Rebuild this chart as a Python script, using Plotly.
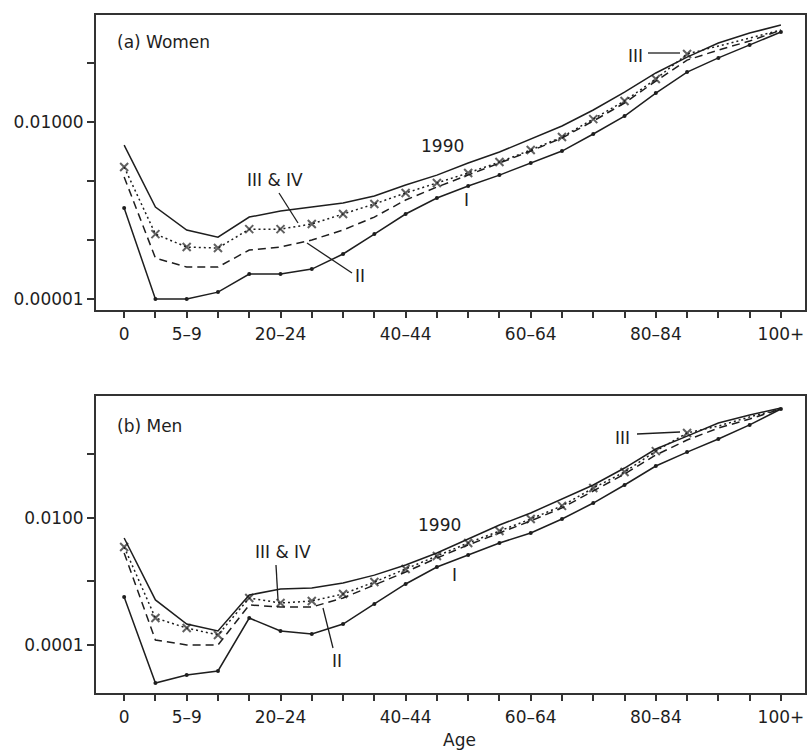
import plotly.graph_objects as go

# ---------------- data ----------------
ages = ["0", "1–4", "5–9", "10–14", "15–19", "20–24", "25–29", "30–34", "35–39",
        "40–44", "45–49", "50–54", "55–59", "60–64", "65–69", "70–74", "75–79",
        "80–84", "85–89", "90–94", "95–99", "100+"]
shown_labels = ["0", "5–9", "20–24", "40–44", "60–64", "80–84", "100+"]

# (a) Women – death rates by age
women_1990 = [0.00407, 0.000362, 0.000148, 0.000112, 0.000245, 0.000310, 0.000362, 0.000424,
              0.000557, 0.000855, 0.00126, 0.00202, 0.00310, 0.00515, 0.00855, 0.0160,
              0.0322, 0.0678, 0.126, 0.218, 0.322, 0.441]
women_III_IV = [0.00173, 0.000126, 0.0000760, 0.0000731, 0.000153, 0.000153, 0.000187, 0.000276,
                0.000408, 0.000627, 0.000925, 0.00137, 0.00210, 0.00335, 0.00557, 0.0112,
                0.0227, 0.0536, 0.142, 0.194, 0.265, 0.362]
women_II = [0.00117, 0.0000495, 0.0000348, 0.0000348, 0.0000678, 0.0000760, 0.000100, 0.000148,
            0.000245, 0.000476, 0.000791, 0.00126, 0.00202, 0.00322, 0.00536, 0.0104,
            0.0210, 0.0495, 0.112, 0.166, 0.236, 0.360]
women_I = [0.000348, 0.0000100, 0.0000100, 0.0000131, 0.0000265, 0.0000265, 0.0000322, 0.0000580,
           0.000126, 0.000276, 0.000515, 0.000822, 0.00126, 0.00202, 0.00322, 0.00627,
           0.0126, 0.0310, 0.0703, 0.122, 0.202, 0.335]

# (b) Men – death rates by age
men_1990 = [0.00484, 0.000512, 0.000214, 0.000166, 0.000612, 0.000762, 0.000791, 0.000946,
            0.00126, 0.00182, 0.00281, 0.00467, 0.00776, 0.0120, 0.0199, 0.0331,
            0.0612, 0.122, 0.195, 0.313, 0.419, 0.540]
men_III_IV = [0.00349, 0.000266, 0.000185, 0.000144, 0.000550, 0.000458, 0.000493, 0.000635,
              0.000982, 0.00157, 0.00252, 0.00404, 0.00623, 0.00964, 0.0155, 0.0296,
              0.0530, 0.113, 0.218, 0.281, 0.390, 0.521]
men_II = [0.00281, 0.000120, 0.000100, 0.000100, 0.000427, 0.000396, 0.000396, 0.000550,
          0.000881, 0.00141, 0.00234, 0.00376, 0.00581, 0.00898, 0.0144, 0.0266,
          0.0493, 0.0982, 0.169, 0.261, 0.362, 0.521]
men_I = [0.000570, 0.0000252, 0.0000337, 0.0000390, 0.000266, 0.000166, 0.000149, 0.000214,
         0.000443, 0.000914, 0.00169, 0.00261, 0.00404, 0.00581, 0.00964, 0.0172,
         0.0331, 0.0659, 0.109, 0.175, 0.292, 0.521]

last_marked_age = "85–89"   # the x markers stop here

# ---------------- styling ----------------
W, H = 808, 752
INK = "#1e1e1e"
FONT = "DejaVu Sans"
FS = 17


def px(x):
    return x / W


def py(y):
    return 1 - y / H


marker_sizes = [8 if i <= ages.index(last_marked_age) else 0 for i in range(len(ages))]

fig = go.Figure()


def add_panel(xa, ya, s1990, s34, s2, s1):
    fig.add_trace(go.Scatter(x=ages, y=s1990, mode="lines", xaxis=xa, yaxis=ya,
                             line=dict(color=INK, width=1.5), showlegend=False))
    fig.add_trace(go.Scatter(x=ages, y=s34, mode="lines+markers", xaxis=xa, yaxis=ya,
                             line=dict(color=INK, width=1.5, dash="2px,3px"),
                             marker=dict(symbol="x-thin", size=marker_sizes,
                                         line=dict(color=INK, width=2)),
                             showlegend=False))
    fig.add_trace(go.Scatter(x=ages, y=s2, mode="lines", xaxis=xa, yaxis=ya,
                             line=dict(color=INK, width=1.5, dash="8px,5px"), showlegend=False))
    fig.add_trace(go.Scatter(x=ages, y=s1, mode="lines+markers", xaxis=xa, yaxis=ya,
                             line=dict(color=INK, width=1.5),
                             marker=dict(symbol="circle", size=4, color=INK),
                             showlegend=False))


add_panel("x", "y", women_1990, women_III_IV, women_II, women_I)
add_panel("x2", "y2", men_1990, men_III_IV, men_II, men_I)

xticktext = [a if a in shown_labels else "" for a in ages]

axis_common = dict(showline=True, mirror=True, linecolor="#333333", linewidth=1.8,
                   ticks="outside", tickwidth=1.5, tickcolor="#333333",
                   showgrid=False, zeroline=False,
                   tickfont=dict(family=FONT, size=FS, color=INK))

xdom = [px(96), px(805)]
xcommon = dict(axis_common, type="category", categoryarray=ages, categoryorder="array",
               range=[-0.9, 21.77], tickvals=ages, ticktext=xticktext, ticklen=6,
               domain=xdom, ticklabelstandoff=2)

fig.update_layout(
    width=W, height=H,
    margin=dict(l=0, r=0, t=0, b=0),
    paper_bgcolor="white", plot_bgcolor="white",
    xaxis=dict(xcommon, anchor="y"),
    xaxis2=dict(xcommon, anchor="y2"),
    yaxis=dict(axis_common, type="log", anchor="x", range=[-5.186, -0.186],
               domain=[py(310), py(15)], ticklen=7,
               tickvals=[1e-5, 1e-4, 1e-3, 1e-2, 1e-1],
               ticktext=["0.00001", "", "", "0.01000", ""]),
    yaxis2=dict(axis_common, type="log", anchor="x2", range=[-4.756, -0.079],
                domain=[py(693), py(396)], ticklen=7,
                tickvals=[1e-4, 1e-3, 1e-2, 1e-1],
                ticktext=["0.0001", "", "0.0100", ""]),
)

# ---------------- labels ----------------
texts = [
    ("(a) Women", 115, 42, "left"),
    ("III & IV", 275, 180, "center"),
    ("II", 360, 276, "center"),
    ("1990", 442, 146, "center"),
    ("I", 467, 200, "center"),
    ("III", 635, 56, "center"),
    ("(b) Men", 115, 426, "left"),
    ("III & IV", 283, 552, "center"),
    ("II", 337, 661, "center"),
    ("1990", 439, 525, "center"),
    ("I", 455, 575, "center"),
    ("III", 622, 438, "center"),
    ("Age", 460, 740, "center"),
]
for t, x, y, anc in texts:
    fig.add_annotation(text=t, x=px(x), y=py(y), xref="paper", yref="paper",
                       xanchor=anc, yanchor="middle", showarrow=False,
                       font=dict(family=FONT, size=FS, color=INK))

leaders = [
    (279, 193, 298, 223), (307, 243, 352, 273), (648, 53, 680, 53),
    (276, 565, 278, 600), (323, 608, 333, 648), (637, 434, 680, 432),
]
for x0, y0, x1, y1 in leaders:
    fig.add_shape(type="line", xref="paper", yref="paper",
                  x0=px(x0), y0=py(y0), x1=px(x1), y1=py(y1),
                  line=dict(color=INK, width=1.3))

# remove the page's default 8px body margin so the 808x752 figure fills the window
fig.write_html("out.html",
               config={"displayModeBar": False},
               post_script="document.body.style.margin='0';"
                           "document.body.style.overflow='hidden';")
